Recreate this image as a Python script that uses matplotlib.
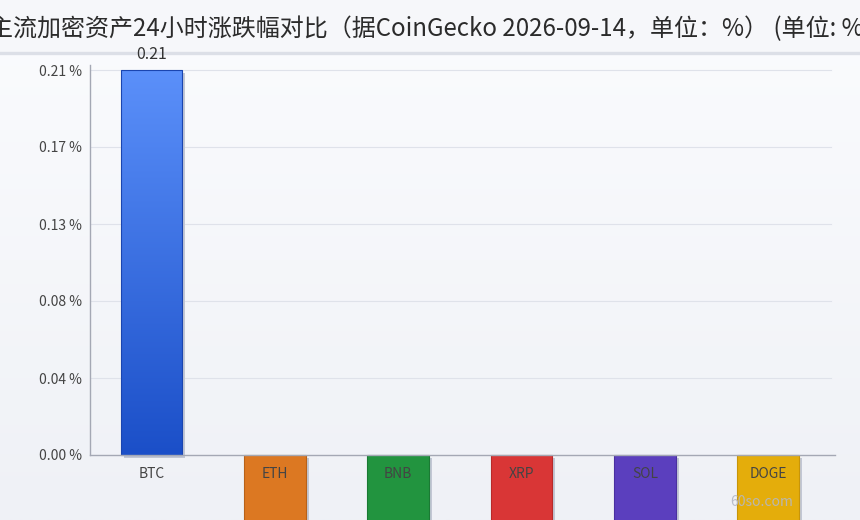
import numpy as np
import matplotlib
matplotlib.use('Agg')
import matplotlib.pyplot as plt
from matplotlib.colors import LinearSegmentedColormap
import matplotlib.transforms as mtransforms

plt.rcParams['font.family'] = ['Noto Sans CJK SC', 'DejaVu Sans']

categories = ['BTC', 'ETH', 'BNB', 'XRP', 'SOL', 'DOGE']
changes = [0.21, -0.62, -0.48, -0.85, -1.12, -0.93]
bar_colors = ['#3a6ee8', '#dc7822', '#22943f', '#d93636', '#5b3fbe', '#e4ad0b']
edge_colors = ['#1a45b0', '#b86218', '#1a7a33', '#b82a2a', '#4a30a0', '#c89508']
y_ticks = np.linspace(0, 0.21, 6)
title = '主流加密资产24小时涨跌幅对比（据CoinGecko 2026-09-14，单位：%） (单位: %)'

W, H = 860, 520
fig = plt.figure(figsize=(W / 100, H / 100), dpi=100)

# background
bg = fig.add_axes([0, 0, 1, 1], zorder=-10)
grad = np.linspace(0, 1, 256).reshape(-1, 1)
cmap_bg = LinearSegmentedColormap.from_list('bg', ['#fbfcfe', '#eff1f6'])
bg.imshow(grad, aspect='auto', cmap=cmap_bg, extent=[0, 1, 0, 1], origin='upper')
bg.axhspan(1 - 53 / H, 1, color='#f6f7fa', zorder=2)
bg.axhline(1 - 53 / H, color='#dcdfe7', lw=2.4, zorder=3)
bg.set_xlim(0, 1)
bg.set_ylim(0, 1)
bg.set_axis_off()

fig.text(0.5, 1 - 29 / H, title, ha='center', va='center', fontsize=17.3, color='#2b2b2b')

ax = fig.add_axes([90 / W, 65 / H, 745 / W, 390 / H])
ax.patch.set_alpha(0)
ax.set_axisbelow(False)

x = np.arange(len(categories))
width = 0.5
shadow_tf = ax.transData + mtransforms.ScaledTranslation(3 / 100, -3 / 100, fig.dpi_scale_trans)
ax.bar(x, changes, width, color='#c2c7d4', transform=shadow_tf, clip_on=False, zorder=1)
bars = ax.bar(x, changes, width, color=bar_colors, edgecolor=edge_colors, lw=0.8,
              clip_on=False, zorder=2)

# gradient for positive bar
cmap_btc = LinearSegmentedColormap.from_list('btc', ['#5b90fa', '#1b4fc8'])
for xi, v, b in zip(x, changes, bars):
    if v > 0:
        b.set_facecolor('none')
        im = ax.imshow(grad, aspect='auto', cmap=cmap_btc, origin='upper',
                       extent=[xi - width / 2, xi + width / 2, 0, v], zorder=1.9)
        im.set_clip_path(b)
        ax.annotate(f'{v:.2f}', (xi, v), xytext=(0, 5), textcoords='offset points',
                    ha='center', va='bottom', fontsize=11.5, color='#333333')

xmax = -0.5 + 745 / 123.3
ax.set_xlim(-0.5, xmax)
ax.set_ylim(0, 0.21 * 390 / 385)
ax.set_xticks(x)
ax.set_xticklabels(categories)
ax.set_yticks(y_ticks)
ax.set_yticklabels([f'{t:.2f} %' for t in y_ticks])
ax.tick_params(axis='both', length=0, labelsize=10, colors='#444444')
ax.tick_params(axis='x', pad=9)
ax.tick_params(axis='y', pad=6)
ax.xaxis.set_zorder(5)
ax.yaxis.set_zorder(5)
for t in y_ticks[1:]:
    ax.plot([-0.5, xmax - 0.03], [t, t], color='#dfe2ea', lw=0.8, zorder=0.5)
for s in ['top', 'right']:
    ax.spines[s].set_visible(False)
for s in ['left', 'bottom']:
    ax.spines[s].set_color('#a4a8b4')
    ax.spines[s].set_linewidth(1)

fig.text(762 / W, 1 - 502 / H, '60so.com', ha='center', va='center', fontsize=10,
         color='#b4b8c4', alpha=0.9, zorder=10)

fig.savefig('out.png', dpi=100)
